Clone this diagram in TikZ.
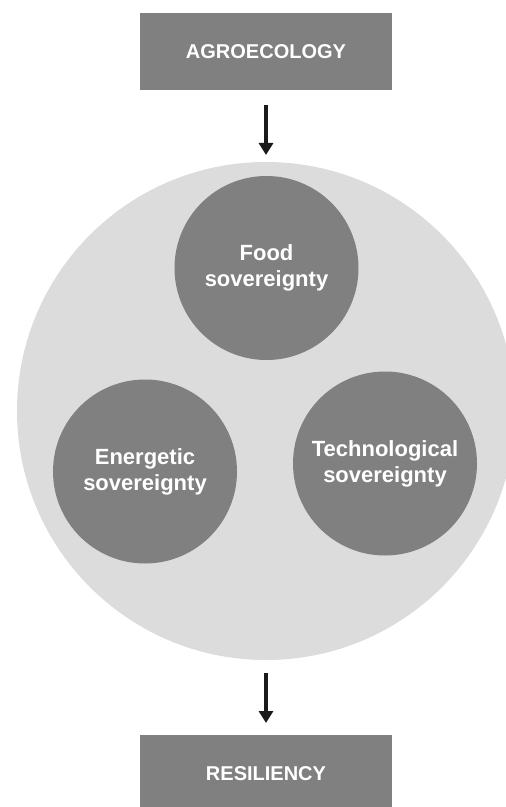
\documentclass[tikz,border=0pt]{standalone}
\usepackage{fontspec}
\setmainfont{Liberation Sans}
\usetikzlibrary{arrows.meta}
\definecolor{boxgray}{HTML}{808080}
\definecolor{biggray}{HTML}{DCDCDC}
\definecolor{arrowblack}{HTML}{1A1A1A}
\tikzset{
  x=1bp, y=-1bp,
  labelbox/.style={fill=boxgray, draw=none, minimum width=252bp, minimum height=77bp,
    inner sep=0pt, outer sep=0pt, text=white, font=\fontsize{20bp}{24bp}\selectfont\bfseries},
  bigcirc/.style={circle, fill=biggray, draw=none, minimum size=498bp, inner sep=0pt, outer sep=0pt},
  smallcirc/.style={circle, fill=boxgray, draw=none, minimum size=184bp, inner sep=0pt, outer sep=0pt,
    text=white, align=center, font=\fontsize{22bp}{26bp}\selectfont\bfseries},
  flowarrow/.style={draw=arrowblack, line width=3.8bp, -{Triangle[width=14bp,length=12bp]}}
}
\begin{document}
\begin{tikzpicture}
\useasboundingbox (0,0) rectangle (506,807);
\begin{scope}
\clip (0,0) rectangle (506,807);
\node[labelbox] (agro) at (266,51.5) {AGROECOLOGY};
\node[bigcirc] (big) at (266,411) {};
\node[smallcirc] (food) at (266.5,268) {Food\\sovereignty};
\node[smallcirc] (energ) at (145,471.5) {Energetic\\sovereignty};
\node[smallcirc] (techn) at (385,463.5) {Technological\\sovereignty};
\node[labelbox] (resil) at (266,773.5) {RESILIENCY};
\end{scope}
\draw[flowarrow, shorten <=15bp, shorten >=7bp] (agro.south) -- (big.north);
\draw[flowarrow, shorten <=13bp, shorten >=12bp] (big.south) -- (resil.north);
\end{tikzpicture}
\end{document}
